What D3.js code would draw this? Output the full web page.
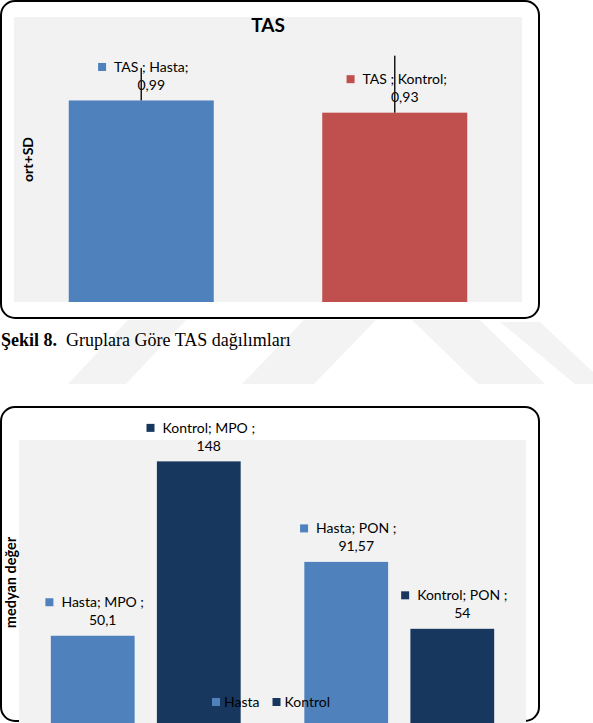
<!DOCTYPE html>
<html><head><meta charset="utf-8">
<script src="https://cdn.jsdelivr.net/npm/d3@7"></script>
<style>body{margin:0;background:#fff}svg{display:block}</style>
</head><body>
<svg id="c" width="593" height="723"></svg>
<script>
// ---- Chart 1: TAS ----
const tasGroups = ["Hasta", "Kontrol"];
const tasMeans = [0.99, 0.93];
const tasSD = [0.16, 0.28];
const tasValueLabels = ["0,99", "0,93"];
const tasColors = ["#4F81BD", "#C0504D"];
const tasDomain = [0, 1.4];

// ---- Chart 2: medyan değer ----
const markers = ["MPO", "PON"];
const medGroups = ["Hasta", "Kontrol"];
const hastaMedians = [50.1, 91.57];
const kontrolMedians = [148, 54];
const hastaValueLabels = ["50,1", "91,57"];
const kontrolValueLabels = ["148", "54"];
const medColors = ["#4F81BD", "#17375E"];
const medDomain = [0, 160];

const FONT = "Lato, 'Open Sans', sans-serif";
const svg = d3.select("#c");

// faint watermark shapes
const wm = svg.append("g").attr("fill", "#f3f3f3");
[
  [[68,384],[126,384],[186,320],[128,320]],
  [[242,384],[314,384],[376,320],[304,320]],
  [[412,320],[480,320],[545,384],[478,384]],
  [[500,322],[540,322],[593,372],[593,384],[575,384]]
].forEach(p => wm.append("polygon").attr("points", p.map(d => d.join(",")).join(" ")));

function frame(x0, y0, x1, y1) {
  svg.append("rect").attr("x", x0).attr("y", y0).attr("width", x1 - x0).attr("height", y1 - y0)
    .attr("rx", 14).attr("ry", 14).attr("fill", "#fff").attr("stroke", "#000").attr("stroke-width", 2);
}

function dataLabel(g, cx, yTop, line1, line2, color) {
  const tx = cx + 10;
  const t1 = g.append("text").attr("x", tx).attr("y", yTop - 33.5).attr("dy", "0.35em")
    .attr("text-anchor", "middle").attr("font-family", FONT).attr("font-size", 14).attr("fill", "#000").text(line1);
  const w = t1.node().getComputedTextLength();
  g.append("rect").attr("x", tx - w / 2 - 16).attr("y", yTop - 33.5 - 4).attr("width", 8).attr("height", 8).attr("fill", color);
  g.append("text").attr("x", tx).attr("y", yTop - 15.5).attr("dy", "0.35em")
    .attr("text-anchor", "middle").attr("font-family", FONT).attr("font-size", 14).attr("fill", "#000").text(line2);
}

// ===== Chart 1 =====
frame(1, 1, 539, 318);
const p1 = {l: 14, r: 522, t: 17, b: 302};
svg.append("rect").attr("x", p1.l).attr("y", p1.t).attr("width", p1.r - p1.l).attr("height", p1.b - p1.t).attr("fill", "#F2F2F2");
const x1 = d3.scaleBand().domain(tasGroups).range([p1.l, p1.r]).paddingInner(0.428).paddingOuter(0.216);
const y1 = d3.scaleLinear().domain(tasDomain).range([p1.b, p1.t]);
const g1 = svg.append("g");
tasGroups.forEach((grp, i) => {
  g1.append("rect").attr("x", x1(grp)).attr("y", y1(tasMeans[i])).attr("width", x1.bandwidth())
    .attr("height", y1(0) - y1(tasMeans[i])).attr("fill", tasColors[i]);
});
tasGroups.forEach((grp, i) => {
  const cx = x1(grp) + x1.bandwidth() / 2;
  dataLabel(g1, cx, y1(tasMeans[i]), "TAS ; " + grp + ";", tasValueLabels[i], tasColors[i]);
});
tasGroups.forEach((grp, i) => {
  const cx = x1(grp) + x1.bandwidth() / 2;
  g1.append("line").attr("x1", cx).attr("x2", cx).attr("y1", y1(tasMeans[i])).attr("y2", y1(tasMeans[i] + tasSD[i]))
    .attr("stroke", "#1a1a1a").attr("stroke-width", 1.5);
});
svg.append("text").attr("x", (p1.l + p1.r) / 2).attr("y", 25).attr("dy", "0.35em").attr("text-anchor", "middle")
  .attr("font-family", FONT).attr("font-weight", "bold").attr("font-size", 19).text("TAS");
svg.append("text").attr("transform", `translate(28,${(p1.t + p1.b) / 2}) rotate(-90)`).attr("dy", "0.35em")
  .attr("text-anchor", "middle").attr("font-family", FONT).attr("font-weight", "bold").attr("font-size", 14).text("ort+SD");

// caption
const cap = svg.append("text").attr("x", 1).attr("y", 346).attr("font-family", "'Liberation Serif', 'Times New Roman', serif").attr("font-size", 18).attr("fill", "#000");
cap.append("tspan").attr("font-weight", "bold").text("Şekil 8.");
cap.append("tspan").text("\u00a0 Gruplara Göre TAS dağılımları");

// ===== Chart 2 =====
frame(1, 407, 539, 721);
const p2 = {l: 19, r: 526, t: 440, b: 725};
svg.append("rect").attr("x", p2.l).attr("y", p2.t).attr("width", p2.r - p2.l).attr("height", p2.b - p2.t).attr("fill", "#F2F2F2");
const x0 = d3.scaleBand().domain(markers).range([p2.l, p2.r]);
const xs = d3.scaleBand().domain(medGroups).range([0, x0.bandwidth()]).paddingInner(0.21).paddingOuter(0.3);
const y2 = d3.scaleLinear().domain(medDomain).range([p2.b, p2.t]);
const seriesVals = [hastaMedians, kontrolMedians];
const seriesLabels = [hastaValueLabels, kontrolValueLabels];
const g2 = svg.append("g");
markers.forEach((m, j) => {
  medGroups.forEach((grp, i) => {
    const v = seriesVals[i][j];
    g2.append("rect").attr("x", x0(m) + xs(grp)).attr("y", y2(v)).attr("width", xs.bandwidth())
      .attr("height", y2(0) - y2(v)).attr("fill", medColors[i]);
  });
});
markers.forEach((m, j) => {
  medGroups.forEach((grp, i) => {
    const v = seriesVals[i][j];
    const cx = x0(m) + xs(grp) + xs.bandwidth() / 2;
    dataLabel(g2, cx, y2(v), grp + "; " + m + " ;", seriesLabels[i][j], medColors[i]);
  });
});
svg.append("text").attr("transform", `translate(11,${(p2.t + p2.b) / 2}) rotate(-90)`).attr("dy", "0.35em")
  .attr("text-anchor", "middle").attr("font-family", FONT).attr("font-weight", "bold").attr("font-size", 14.5).text("medyan değer");

// legend
const lg = svg.append("g");
let items = medGroups.map((grp, i) => {
  const t = lg.append("text").attr("y", 702).attr("dy", "0.35em").attr("font-family", FONT).attr("font-size", 14).attr("fill", "#000").text(grp);
  return {t, w: t.node().getComputedTextLength(), c: medColors[i]};
});
const total = d3.sum(items, d => 12 + d.w) + 13 * (items.length - 1);
let cur = 271 - total / 2;
items.forEach(d => {
  lg.append("rect").attr("x", cur).attr("y", 698).attr("width", 8).attr("height", 8).attr("fill", d.c);
  d.t.attr("x", cur + 12);
  cur += 12 + d.w + 13;
});
</script>
</body></html>
